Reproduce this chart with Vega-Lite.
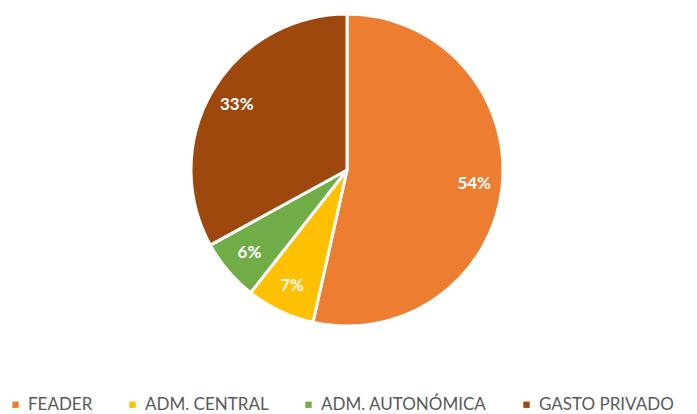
{
  "$schema": "https://vega.github.io/schema/vega-lite/v6.json",
  "width": 694,
  "height": 340,
  "padding": 0,
  "autosize": {"type": "pad"},
  "background": "white",
  "config": {"view": {"stroke": null}},
  "data": {
    "values": [
      {"categoria": "FEADER", "valor": 53.5, "label": "54%", "idx": 1},
      {"categoria": "ADM. CENTRAL", "valor": 7.1, "label": "7%", "idx": 2},
      {"categoria": "ADM. AUTONÓMICA", "valor": 6.4, "label": "6%", "idx": 3},
      {"categoria": "GASTO PRIVADO", "valor": 33.0, "label": "33%", "idx": 4}
    ]
  },
  "encoding": {
    "theta": {"field": "valor", "type": "quantitative", "stack": true},
    "order": {"field": "idx", "type": "quantitative"}
  },
  "layer": [
    {
      "mark": {"type": "arc", "outerRadius": 156, "stroke": "white", "strokeWidth": 3},
      "encoding": {
        "color": {
          "field": "categoria",
          "type": "nominal",
          "sort": ["FEADER", "ADM. CENTRAL", "ADM. AUTONÓMICA", "GASTO PRIVADO"],
          "scale": {
            "domain": ["FEADER", "ADM. CENTRAL", "ADM. AUTONÓMICA", "GASTO PRIVADO"],
            "range": ["#ED7D31", "#FFC000", "#70AD47", "#9E480E"]
          },
          "legend": {
            "title": null,
            "orient": "none",
            "legendX": 7,
            "legendY": 396,
            "direction": "horizontal",
            "symbolType": "square",
            "symbolSize": 40,
            "symbolStrokeWidth": 0,
            "labelFont": "Lato",
            "labelFontSize": 17,
            "labelColor": "#595959",
            "labelOffset": 4,
            "columnPadding": 31,
            "labelLimit": 300
          }
        }
      }
    },
    {
      "mark": {"type": "text", "radius": 128, "font": "Lato", "fontWeight": "bold", "fontSize": 17, "fill": "white"},
      "encoding": {"text": {"field": "label", "type": "nominal"}}
    }
  ]
}
